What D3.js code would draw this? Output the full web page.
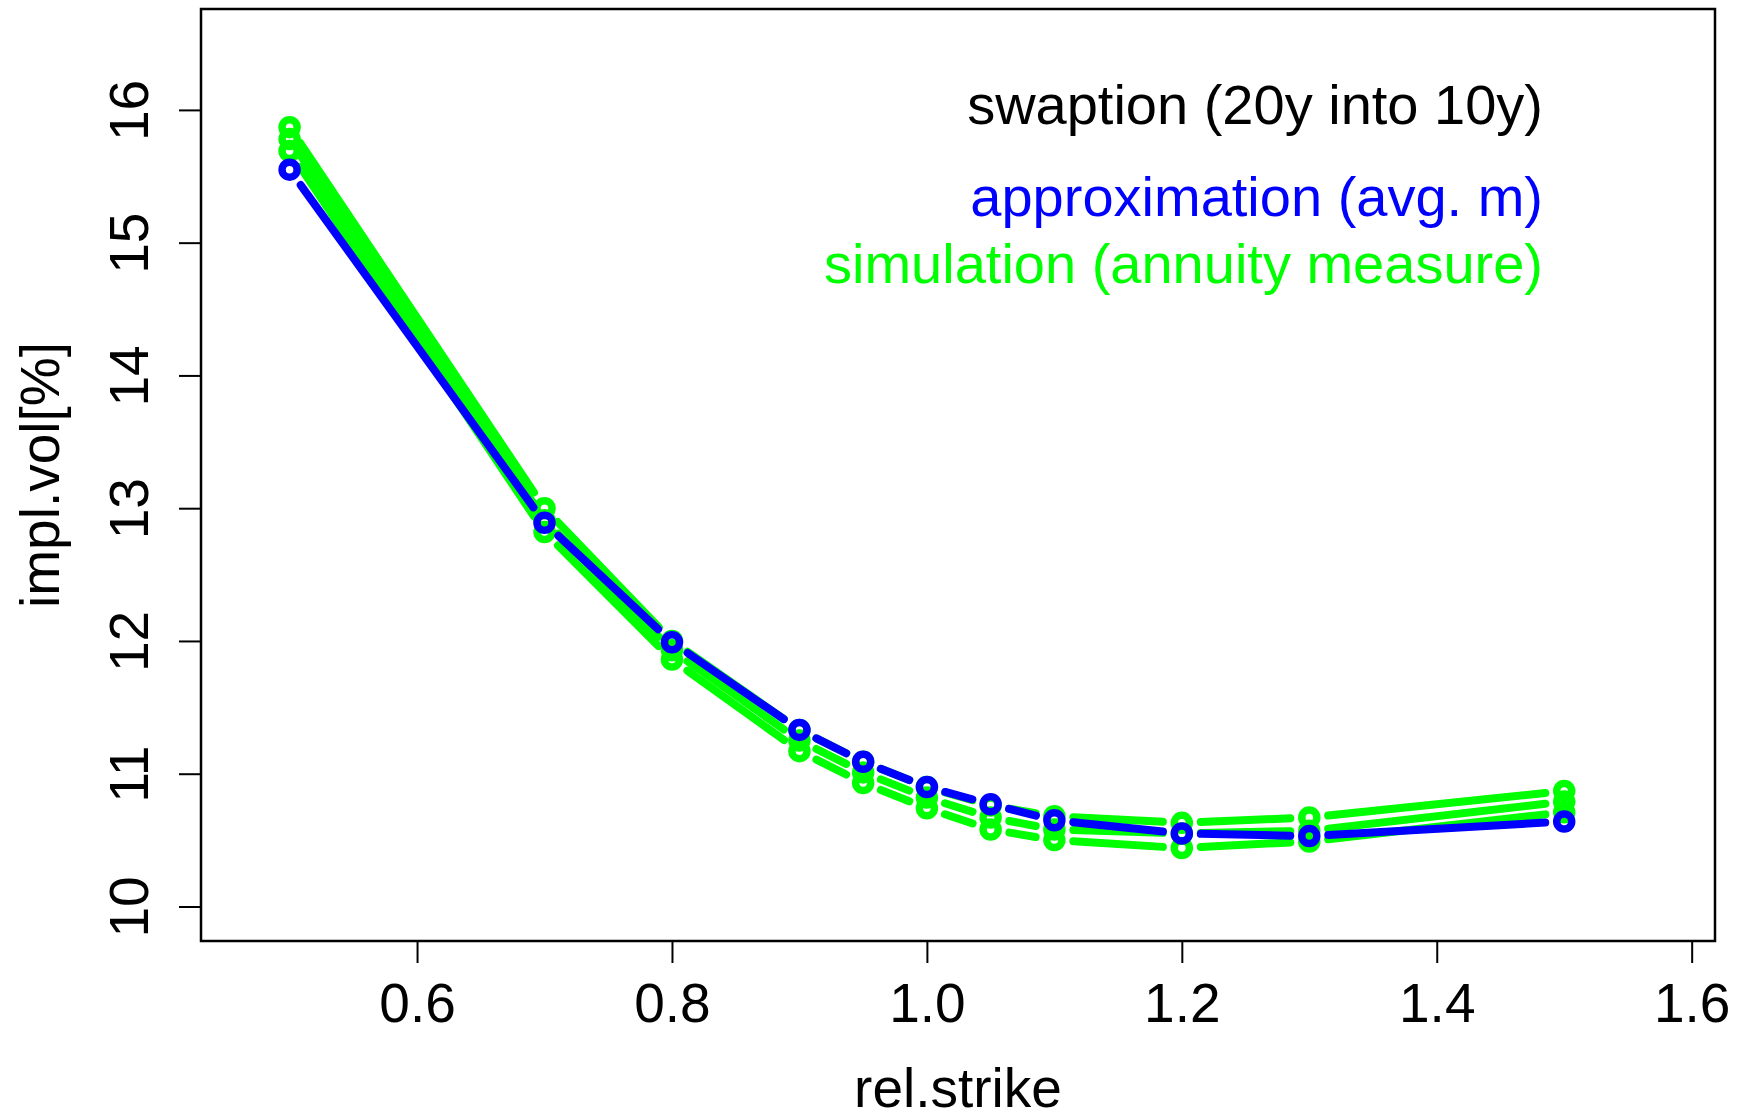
<!DOCTYPE html>
<html>
<head>
<meta charset="utf-8">
<script src="https://cdn.jsdelivr.net/npm/d3@7"></script>
<style>
  body { margin: 0; background: #fff; }
  svg { display: block; }
  text { font-family: "Liberation Sans", Arial, sans-serif; }
</style>
</head>
<body>
<div id="vizholder"></div>
<script>
// strikes (relative) and implied vols in %
var strikes = [0.5, 0.7, 0.8, 0.9, 0.95, 1.0, 1.05, 1.1, 1.2, 1.3, 1.5];
var approxVol = [15.55, 12.89, 11.99, 11.33, 11.09, 10.90, 10.77, 10.65, 10.55, 10.53, 10.64];
var simVolA = [15.87, 13.00, 12.00, 11.33, 11.09, 10.90, 10.76, 10.68, 10.63, 10.67, 10.87];
var simVolB = [15.78, 12.91, 11.93, 11.25, 11.01, 10.82, 10.67, 10.58, 10.55, 10.57, 10.79];
var simVolC = [15.69, 12.82, 11.86, 11.17, 10.93, 10.74, 10.58, 10.50, 10.44, 10.49, 10.71];
var xTicks = [0.6, 0.8, 1.0, 1.2, 1.4, 1.6];
var yTicks = [10, 11, 12, 13, 14, 15, 16];
var legendLabels = ["swaption (20y into 10y)", "approximation (avg. m)", "simulation (annuity measure)"];

var width = 1744, height = 1117;
var margin = {top: 9, right: 29, bottom: 176, left: 201};

var svg = d3.select("#vizholder").append("svg")
    .attr("width", width)
    .attr("height", height);

var x = d3.scaleLinear()
    .domain([0.4305, 1.6183])
    .range([margin.left, width - margin.right]);

var y = d3.scaleLinear()
    .domain([9.74, 16.76])
    .range([height - margin.bottom, margin.top]);

// axes, R style
var xAxis = svg.append("g")
    .attr("transform", "translate(0," + (height - margin.bottom) + ")")
    .call(d3.axisBottom(x).tickValues(xTicks).tickSize(22).tickPadding(20)
        .tickFormat(d3.format(".1f")));
xAxis.select(".domain").remove();
xAxis.selectAll("line").attr("stroke-width", 2);
xAxis.selectAll("text")
    .attr("font-size", 55)
    .attr("fill", "#000")
    .attr("font-family", "Liberation Sans, Arial, sans-serif");

var yAxis = svg.append("g")
    .attr("transform", "translate(" + margin.left + ",0)")
    .call(d3.axisLeft(y).tickValues(yTicks).tickSize(22).tickFormat(d3.format("d")));
yAxis.select(".domain").remove();
yAxis.selectAll("line").attr("stroke-width", 2);
yAxis.selectAll("text").remove();
yAxis.selectAll(".tick").append("text")
    .attr("transform", "translate(-53,0) rotate(-90)")
    .attr("text-anchor", "middle")
    .attr("font-size", 55)
    .attr("fill", "#000")
    .text(function(d) { return d; });

svg.append("rect")
    .attr("x", margin.left)
    .attr("y", margin.top)
    .attr("width", width - margin.left - margin.right)
    .attr("height", height - margin.top - margin.bottom)
    .attr("fill", "none")
    .attr("stroke", "#000")
    .attr("stroke-width", 2.5);

// axis titles
svg.append("text")
    .attr("x", (margin.left + width - margin.right) / 2)
    .attr("y", 1107)
    .attr("text-anchor", "middle")
    .attr("font-size", 55)
    .text("rel.strike");

svg.append("text")
    .attr("transform", "translate(59," + ((margin.top + height - margin.bottom) / 2) + ") rotate(-90)")
    .attr("text-anchor", "middle")
    .attr("font-size", 55)
    .text("impl.vol[%]");

// type="b" series: points with gapped segments
var gap = 19;
var line = d3.line();

function drawSeries(vals, color) {
    var g = svg.append("g");
    var pts = strikes.map(function(s, i) { return [x(s), y(vals[i])]; });
    for (var i = 0; i < pts.length - 1; i++) {
        var p0 = pts[i], p1 = pts[i + 1];
        var dx = p1[0] - p0[0], dy = p1[1] - p0[1];
        var len = Math.sqrt(dx * dx + dy * dy);
        if (len <= 2 * gap) continue;
        var ux = dx / len, uy = dy / len;
        g.append("path")
            .attr("d", line([[p0[0] + ux * gap, p0[1] + uy * gap], [p1[0] - ux * gap, p1[1] - uy * gap]]))
            .attr("stroke", color)
            .attr("stroke-width", 8)
            .attr("stroke-linecap", "round")
            .attr("fill", "none");
    }
    g.selectAll("circle")
        .data(pts)
        .enter().append("circle")
        .attr("cx", function(d) { return d[0]; })
        .attr("cy", function(d) { return d[1]; })
        .attr("r", 7.5)
        .attr("fill", "none")
        .attr("stroke", color)
        .attr("stroke-width", 7.5);
}

drawSeries(simVolA, "#00ff00");
drawSeries(simVolB, "#00ff00");
drawSeries(simVolC, "#00ff00");
drawSeries(approxVol, "#0000ff");

// legend text
var legendColors = ["#000", "#0000ff", "#00ff00"];
var legendY = [124, 216, 283];
svg.selectAll(".leg")
    .data(legendLabels)
    .enter().append("text")
    .attr("class", "leg")
    .attr("x", 1543)
    .attr("y", function(d, i) { return legendY[i]; })
    .attr("text-anchor", "end")
    .attr("font-size", 56)
    .attr("fill", function(d, i) { return legendColors[i]; })
    .text(function(d) { return d; });
</script>
</body>
</html>
